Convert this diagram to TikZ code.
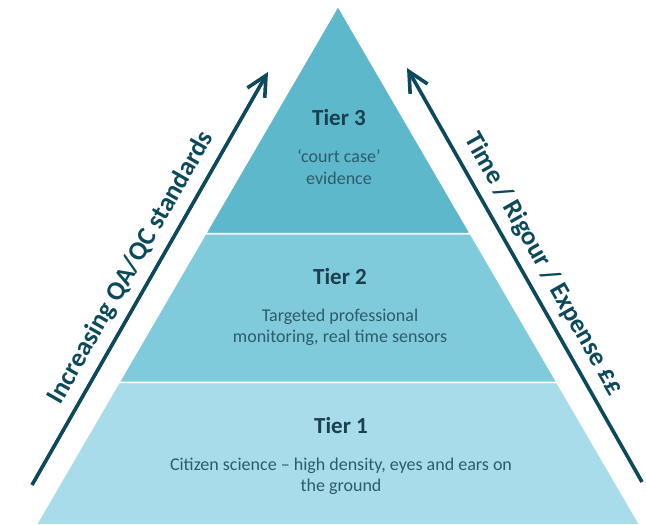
\documentclass[tikz,border=0pt]{standalone}
\usepackage{fontspec}
\setmainfont{Carlito}
\usetikzlibrary{arrows.meta,calc,positioning}
\definecolor{tierone}{HTML}{A8DCEA}
\definecolor{tiertwo}{HTML}{7FCBDC}
\definecolor{tierthree}{HTML}{5DB8CC}
\definecolor{darkteal}{HTML}{0C4A5B}
\definecolor{headtext}{HTML}{1B3F4D}
\definecolor{bodytext}{HTML}{2E5B69}
\tikzset{
    %Define standard arrow tip
    >={Straight Barb[length=20pt,width=20pt]},
    %Define style for the tiers
    tier/.style={
           draw=white,
           line width=1.5pt},
    title/.style={
           font=\fontsize{23}{26}\selectfont\bfseries,
           text=headtext,
           inner sep=0pt},
    descr/.style={
           font=\fontsize{18}{21.5}\selectfont,
           text=bodytext,
           align=center,
           inner sep=0pt},
    % Define arrow style
    pil/.style={
           ->,
           line width=3.6pt,
           draw=darkteal},
    side/.style={
           font=\fontsize{26.5}{30}\selectfont\bfseries,
           text=darkteal,
           sloped,
           above=5pt}
}
\begin{document}
\begin{tikzpicture}[x=1pt,y=1pt,node distance=23pt]
\useasboundingbox (0,0) rectangle (646,525);
 %corners
\coordinate (apex) at (338,519);
\coordinate (bl) at (36,0);
\coordinate (br) at (640,0);
\coordinate (l3) at ($(apex)!0.4385!(bl)$);
\coordinate (r3) at ($(apex)!0.4385!(br)$);
\coordinate (l2) at ($(apex)!0.725!(bl)$);
\coordinate (r2) at ($(apex)!0.725!(br)$);
 %tiers
\filldraw[tier, fill=tierone] (l2) -- (r2) -- (br) -- (bl) -- cycle;
\filldraw[tier, fill=tiertwo] (l3) -- (r3) -- (r2) -- (l2) -- cycle;
\filldraw[tier, fill=tierthree] (apex) -- (r3) -- (l3) -- cycle;
 %nodes
\node[title](t3) at (339,407){Tier 3};
\node[descr, below=of t3](d3){`court case'\\evidence};
\node[title](t2) at (340,248){Tier 2};
\node[descr, below=of t2](d2){Targeted professional\\monitoring, real time sensors};
\node[title](t1) at (341,99){Tier 1};
\node[descr, below=of t1](d1){Citizen science -- high density, eyes and ears on\\the ground};
 %arrows
\coordinate (qa0) at (32,40);
\coordinate (qa1) at (268,453);
\coordinate (tr0) at (642,43);
\coordinate (tr1) at (407,457);
\draw[pil] (qa0) -- node[side]{Increasing QA/QC standards} (qa1);
\draw[pil,<-] (tr1) -- node[side]{Time / Rigour / Expense ££} (tr0);
\end{tikzpicture}
\end{document}
